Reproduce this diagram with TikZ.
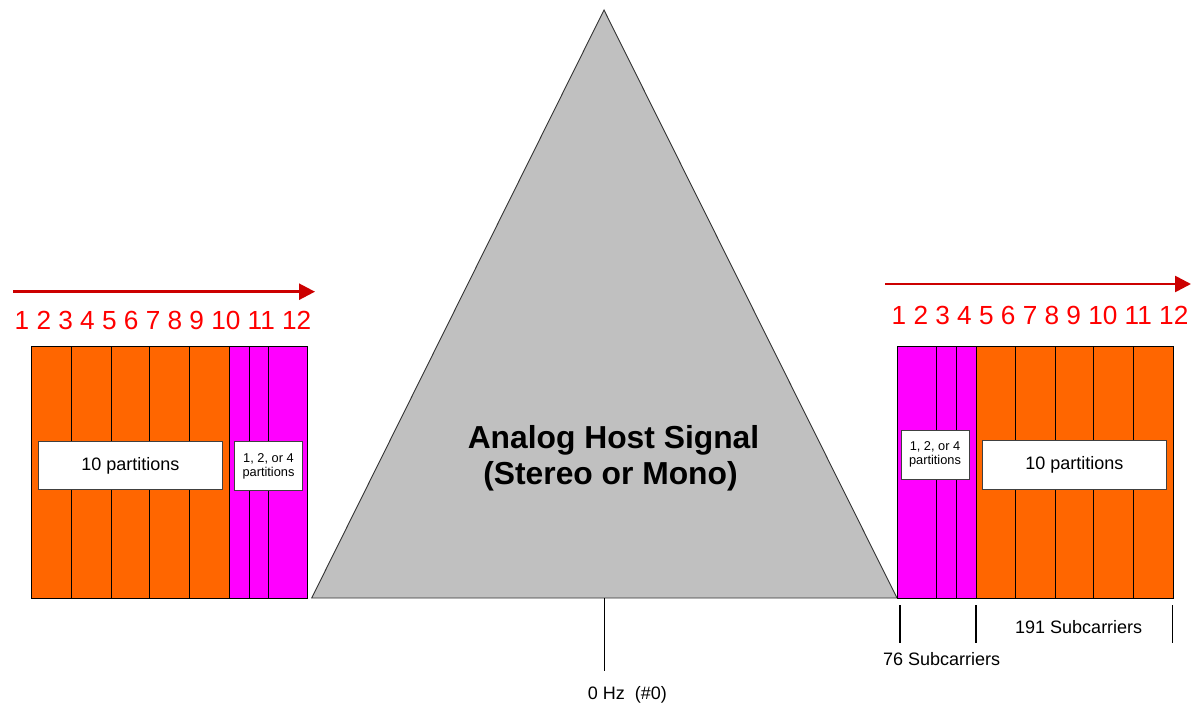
\documentclass[tikz,border=0pt]{standalone}
\usepackage{fontspec}
\setmainfont{Liberation Sans}
\usetikzlibrary{arrows.meta}
\definecolor{orng}{HTML}{FF6600}
\definecolor{mag}{HTML}{FF00FF}
\definecolor{gry}{HTML}{C0C0C0}
\definecolor{arrowred}{HTML}{CC0000}
\begin{document}
\begin{tikzpicture}[x=1pt,y=-1pt,
  orangecol/.style={fill=orng,draw=black,line width=0.9pt},
  magcol/.style={fill=mag,draw=black,line width=0.9pt},
  labelbox/.style={draw=black!75,fill=white,line width=1pt,inner sep=0pt,align=center},
  bigtxt/.style={font=\fontsize{18}{20}\selectfont},
  smalltxt/.style={font=\fontsize{12.8}{14}\selectfont},
  redarrow/.style={draw=arrowred,line width=2.6pt,-{Triangle[length=16pt,width=16pt]}},
  rednums/.style={text=red,font=\fontsize{26.2}{28}\selectfont,anchor=base west,inner sep=0pt},
  ticks/.style={draw=black,line width=1.5pt},
  plain/.style={font=\fontsize{18}{20}\selectfont,anchor=base west,inner sep=0pt},
  sigtxt/.style={font=\bfseries\fontsize{31.8}{36}\selectfont,anchor=base,inner sep=0pt}]
\useasboundingbox (0,0) rectangle (1191,703);
% triangle
\draw[fill=gry,draw=black!80,line width=0.9pt] (604,10) -- (897,598) -- (311.7,598) -- cycle;
\node[sigtxt] (sigA) at (613.5,448.3) {Analog Host Signal};
\node[sigtxt] (sigB) at (610.5,484) {(Stereo or Mono)};
% left block
\foreach \a/\b in {31.7/71.7,71.7/111.7,111.7/149.7,149.7/189.3,189.3/229.3}
  \draw[orangecol] (\a,346.7) rectangle (\b,598);
\foreach \a/\b in {229.3/249.7,249.7/268.7,268.7/307}
  \draw[magcol] (\a,346.7) rectangle (\b,598);
% right block
\foreach \a/\b in {897.3/936.7,936.7/956.7,956.7/976}
  \draw[magcol] (\a,346.7) rectangle (\b,598.3);
\foreach \a/\b in {976/1015.7,1015.7/1055.7,1055.7/1093.3,1093.3/1133.3,1133.3/1173.3}
  \draw[orangecol] (\a,346.7) rectangle (\b,598.3);
% label boxes
\node[labelbox,bigtxt,minimum width=184pt,minimum height=48.3pt] (lten) at (130.3,465.8) {10 partitions};
\node[labelbox,smalltxt,minimum width=68.4pt,minimum height=49.3pt] (lfew) at (268.5,466.3) {1, 2, or 4\\partitions};
\node[labelbox,smalltxt,minimum width=68pt,minimum height=49pt] (rfew) at (935,454.5) {1, 2, or 4\\partitions};
\node[labelbox,bigtxt,minimum width=184pt,minimum height=49pt] (rten) at (1074.3,464.5) {10 partitions};
% arrows
\coordinate (la0) at (13,291.7);
\coordinate (la1) at (315,291.7);
\draw[redarrow] (la0) -- (la1);
\coordinate (ra0) at (885,284);
\coordinate (ra1) at (1191,284);
\draw[redarrow] (ra0) -- (ra1);
% numbers
\node[rednums] (lnums) at (14.5,329.3) {1 2 3 4 5 6 7 8 9 10 11 12};
\node[rednums] (rnums) at (891.5,324) {1 2 3 4 5 6 7 8 9 10 11 12};
% ticks
\coordinate (z0) at (604.3,598);
\coordinate (z1) at (604.3,670.7);
\draw[ticks] (z0) -- (z1);
\coordinate (t1a) at (900,605); \coordinate (t1b) at (900,643);
\coordinate (t2a) at (976,605); \coordinate (t2b) at (976,643);
\coordinate (t3a) at (1172.7,605); \coordinate (t3b) at (1172.7,643);
\draw[ticks] (t1a) -- (t1b);
\draw[ticks] (t2a) -- (t2b);
\draw[ticks] (t3a) -- (t3b);
\node[plain] (hz) at (587.7,699) {0 Hz\ \ (\#0)};
\node[plain] (s191) at (1015,633.3) {191 Subcarriers};
\node[plain] (s76) at (883,665) {76 Subcarriers};
\end{tikzpicture}
\end{document}
